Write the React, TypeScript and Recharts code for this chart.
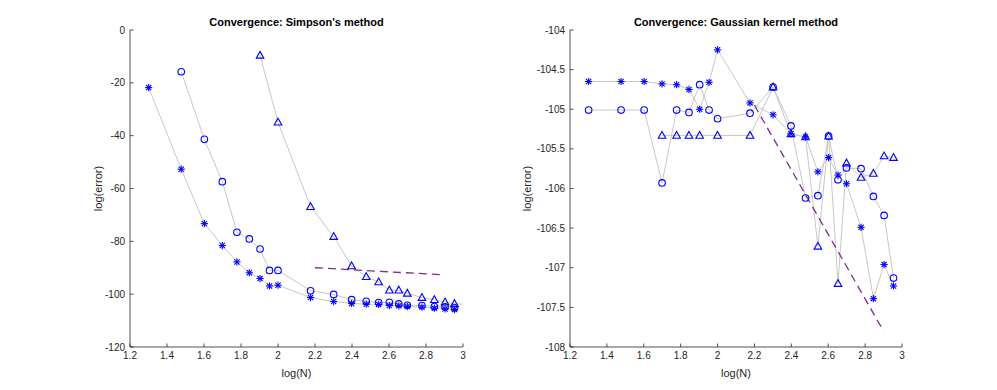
import React from 'react';
import { Line, LineChart, XAxis, YAxis } from 'recharts';

const FONT = '"Liberation Sans", Arial, Helvetica, sans-serif';
const AXIS = '#262626';
const MARK = '#0000ff';
const GRAY = '#c8c8c8';
const PURPLE = '#7e2f8e';

// log10(N) for N = 20, 30, ..., 900
const logN = [1.301, 1.477, 1.602, 1.699, 1.778, 1.845, 1.903, 1.954, 2.0, 2.176, 2.301, 2.398, 2.477, 2.544, 2.602, 2.653, 2.699, 2.778, 2.845, 2.903, 2.954];
const logNCircleSimp = [1.477, 1.602, 1.699, 1.778, 1.845, 1.903, 1.954, 2.0, 2.176, 2.301, 2.398, 2.477, 2.544, 2.602, 2.653, 2.699, 2.778, 2.845, 2.903, 2.954];
const logNTriSimp = [1.903, 2.0, 2.176, 2.301, 2.398, 2.477, 2.544, 2.602, 2.653, 2.699, 2.778, 2.845, 2.903, 2.954];
const logNTriGauss = [1.699, 1.778, 1.845, 1.903, 2.0, 2.176, 2.301, 2.398, 2.477, 2.544, 2.602, 2.653, 2.699, 2.778, 2.845, 2.903, 2.954];

const xTicks = [1.2, 1.4, 1.6, 1.8, 2, 2.2, 2.4, 2.6, 2.8, 3];
const simpTicks = [-120, -100, -80, -60, -40, -20, 0];
const gaussTicks = [-108, -107.5, -107, -106.5, -106, -105.5, -105, -104.5, -104];

// Simpson's method
const simpStar = [-21.8, -52.7, -73.3, -81.6, -87.8, -91.9, -94.1, -96.9, -96.6, -101.3, -102.8, -103.5, -103.8, -103.9, -104.3, -104.4, -104.7, -104.9, -105.3, -105.6, -105.8];
const simpCircle = [-15.8, -41.4, -57.4, -76.6, -79.1, -82.9, -91.0, -91.0, -98.7, -100.1, -102.1, -102.7, -103.2, -103.1, -103.7, -104.2, -104.3, -104.7, -104.8, -105.2];
const simpTri = [-9.6, -34.9, -66.9, -78.2, -89.3, -93.4, -95.4, -98.5, -98.5, -99.7, -101.3, -102.1, -103.0, -103.6];
const simpTailX = [2.954, 3.0];
const simpTailY = [-103.6, -103.8];
const simpRefX = [2.2, 2.9];
const simpRefY = [-90.0, -92.7];

// Gaussian kernel method
const gaussStar = [-104.65, -104.65, -104.65, -104.68, -104.69, -104.75, -105.0, -104.66, -104.25, -104.92, -105.07, -105.31, -105.35, -105.79, -105.61, -105.83, -105.94, -106.49, -107.39, -106.96, -107.23];
const gaussCircle = [-105.01, -105.01, -105.01, -105.93, -105.01, -105.04, -104.69, -105.01, -105.12, -105.05, -104.72, -105.21, -106.12, -106.09, -105.34, -105.89, -105.74, -105.75, -106.1, -106.34, -107.13];
const gaussTri = [-105.33, -105.33, -105.33, -105.33, -105.33, -105.33, -104.72, -105.31, -105.35, -106.73, -105.34, -107.2, -105.68, -105.86, -105.81, -105.59, -105.61];
const gaussRefX = [2.2, 2.9];
const gaussRefY = [-104.95, -107.8];

const pts = (xs: number[], ys: number[]) => xs.map((x, i) => ({ x, y: ys[i] }));

const fmt = (v: number) => String(Math.round(v * 10) / 10);

const GAP = 5;
const TICK_LEN = 3.5;

function LeftTick({ x, y, payload }: any) {
  const ax = x + GAP;
  return (
    <g>
      <line x1={ax} x2={ax + TICK_LEN} y1={y} y2={y} stroke={AXIS} strokeWidth={0.8} />
      <text x={x} y={y} dy="0.35em" textAnchor="end" fontSize={10} fill={AXIS} fontFamily={FONT}>
        {fmt(payload.value)}
      </text>
    </g>
  );
}

function BottomTick({ x, y, payload }: any) {
  const ay = y - 3;
  return (
    <g>
      <line x1={x} x2={x} y1={ay} y2={ay - TICK_LEN} stroke={AXIS} strokeWidth={0.8} />
      <text x={x} y={y} dy="0.85em" textAnchor="middle" fontSize={10} fill={AXIS} fontFamily={FONT}>
        {fmt(payload.value)}
      </text>
    </g>
  );
}

const Star = ({ cx, cy }: any) => {
  if (cx == null || cy == null) return <g />;
  const r = 3.6;
  const d = r * 0.72;
  return (
    <g stroke={MARK} strokeWidth={1.1}>
      <line x1={cx - r} x2={cx + r} y1={cy} y2={cy} />
      <line x1={cx} x2={cx} y1={cy - r} y2={cy + r} />
      <line x1={cx - d} x2={cx + d} y1={cy - d} y2={cy + d} />
      <line x1={cx - d} x2={cx + d} y1={cy + d} y2={cy - d} />
    </g>
  );
};

const Circle = ({ cx, cy }: any) => {
  if (cx == null || cy == null) return <g />;
  return <circle cx={cx} cy={cy} r={3.3} fill="none" stroke={MARK} strokeWidth={1.1} />;
};

const Triangle = ({ cx, cy }: any) => {
  if (cx == null || cy == null) return <g />;
  return (
    <path
      d={`M${cx},${cy - 4} L${cx + 3.8},${cy + 2.8} L${cx - 3.8},${cy + 2.8} Z`}
      fill="none"
      stroke={MARK}
      strokeWidth={1.1}
    />
  );
};

type Series = { data: { x: number; y: number }[]; shape?: any };

interface PanelProps {
  left: number;
  width: number;
  marginLeft: number;
  marginRight: number;
  yWidth: number;
  labelOffset: number;
  title: string;
  yDomain: [number, number];
  yTicks: number[];
  series: Series[];
  tail?: { x: number; y: number }[];
  reference: { x: number; y: number }[];
}

function Panel(p: PanelProps) {
  const plotLeft = p.left + p.marginLeft + p.yWidth;
  const plotRight = p.left + p.width - p.marginRight;
  return (
    <>
      <div
        style={{
          position: 'absolute',
          top: 15,
          left: plotLeft,
          width: plotRight - plotLeft,
          textAlign: 'center',
          fontFamily: FONT,
          fontWeight: 'bold',
          fontSize: 11,
          color: '#000',
          lineHeight: '14px',
        }}
      >
        {p.title}
      </div>
      <div style={{ position: 'absolute', top: 0, left: p.left }}>
        <LineChart
          width={p.width}
          height={390}
          margin={{ top: 30, right: p.marginRight, bottom: 7, left: p.marginLeft }}
        >
          <XAxis
            type="number"
            dataKey="x"
            domain={[1.2, 3]}
            ticks={xTicks}
            interval={0}
            allowDataOverflow
            height={36}
            tickSize={0}
            tickMargin={3}
            tickLine={false}
            tick={<BottomTick />}
            axisLine={{ stroke: AXIS, strokeWidth: 0.8 }}
            label={{ value: 'log(N)', position: 'insideBottom', offset: 6, fill: AXIS, fontSize: 11, fontFamily: FONT }}
          />
          <YAxis
            type="number"
            dataKey="y"
            domain={p.yDomain}
            ticks={p.yTicks}
            interval={0}
            allowDataOverflow
            width={p.yWidth}
            tickSize={0}
            tickMargin={GAP}
            tickLine={false}
            tick={<LeftTick />}
            axisLine={{ stroke: AXIS, strokeWidth: 0.8 }}
            label={{
              value: 'log(error)',
              angle: -90,
              position: 'insideLeft',
              offset: p.labelOffset,
              fill: AXIS,
              fontSize: 11,
              fontFamily: FONT,
              style: { textAnchor: 'middle' },
            }}
          />
          {p.series.map((s, i) => (
            <Line
              key={`l${i}`}
              data={s.data}
              dataKey="y"
              stroke={GRAY}
              strokeWidth={1}
              dot={false}
              activeDot={false}
              isAnimationActive={false}
            />
          ))}
          {p.tail && (
            <Line data={p.tail} dataKey="y" stroke={GRAY} strokeWidth={1} dot={false} activeDot={false} isAnimationActive={false} />
          )}
          <Line
            data={p.reference}
            dataKey="y"
            stroke={PURPLE}
            strokeWidth={1.3}
            strokeDasharray="8 5"
            dot={false}
            activeDot={false}
            isAnimationActive={false}
          />
          {p.series.map((s, i) => (
            <Line
              key={`m${i}`}
              data={s.data}
              dataKey="y"
              stroke="none"
              dot={s.shape}
              activeDot={false}
              isAnimationActive={false}
            />
          ))}
        </LineChart>
      </div>
    </>
  );
}

export default function App() {
  return (
    <div style={{ position: 'absolute', left: 0, top: 0, width: 997, height: 390, background: '#fff' }}>
      <Panel
        left={0}
        width={480}
        marginLeft={90}
        marginRight={17}
        yWidth={40}
        labelOffset={8}
        title="Convergence: Simpson's method"
        yDomain={[-120, 0]}
        yTicks={simpTicks}
        series={[
          { data: pts(logNTriSimp, simpTri), shape: Triangle },
          { data: pts(logNCircleSimp, simpCircle), shape: Circle },
          { data: pts(logN, simpStar), shape: Star },
        ]}
        tail={pts(simpTailX, simpTailY)}
        reference={pts(simpRefX, simpRefY)}
      />
      <Panel
        left={480}
        width={440}
        marginLeft={40}
        marginRight={18}
        yWidth={50}
        labelOffset={7}
        title="Convergence: Gaussian kernel method"
        yDomain={[-108, -104]}
        yTicks={gaussTicks}
        series={[
          { data: pts(logNTriGauss, gaussTri), shape: Triangle },
          { data: pts(logN, gaussCircle), shape: Circle },
          { data: pts(logN, gaussStar), shape: Star },
        ]}
        reference={pts(gaussRefX, gaussRefY)}
      />
    </div>
  );
}
